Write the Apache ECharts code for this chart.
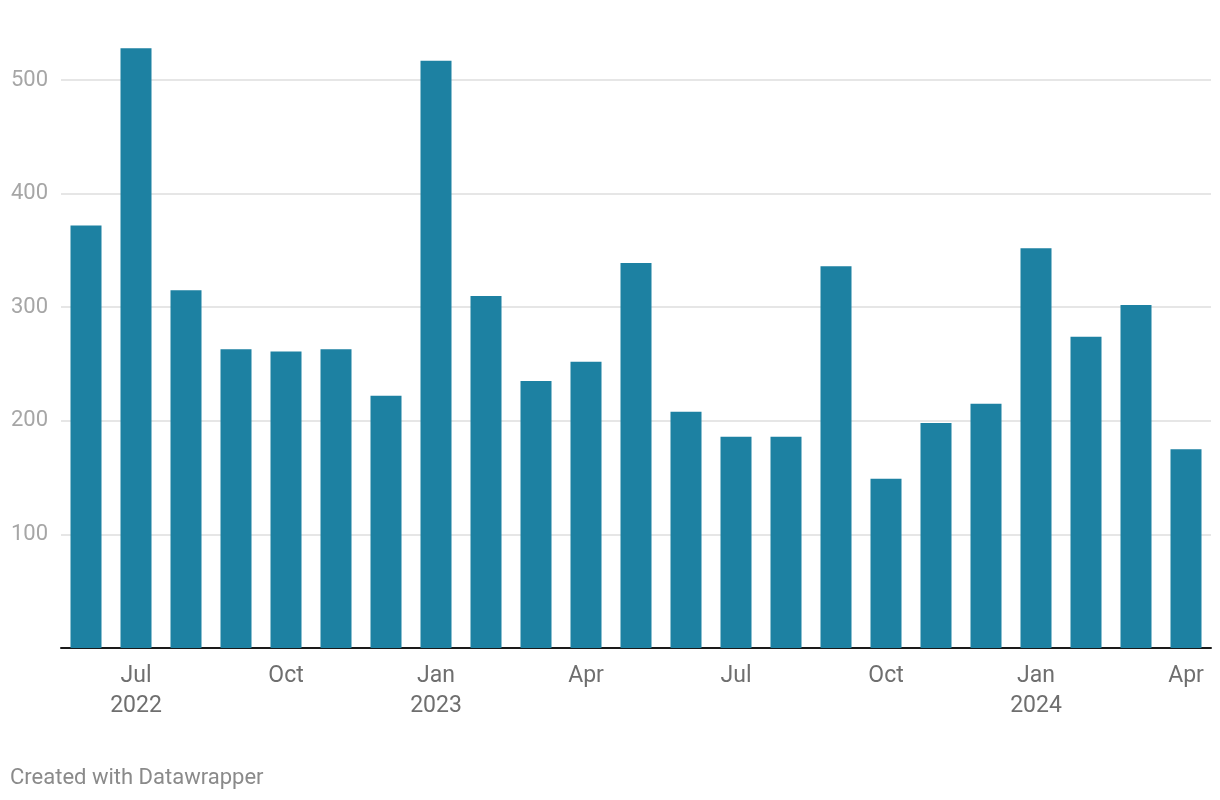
<!DOCTYPE html>
<html>
<head>
<meta charset="utf-8">
<script src="https://cdn.jsdelivr.net/npm/echarts@6/dist/echarts.min.js"></script>
<style>
html,body{margin:0;padding:0;background:#fff;}
#chart{width:1220px;height:800px;}
</style>
</head>
<body>
<div id="chart"></div>
<script>
const months = ['2022-06','2022-07','2022-08','2022-09','2022-10','2022-11','2022-12',
  '2023-01','2023-02','2023-03','2023-04','2023-05','2023-06','2023-07','2023-08','2023-09','2023-10','2023-11','2023-12',
  '2024-01','2024-02','2024-03','2024-04'];
const values = [372, 528, 315, 263, 261, 263, 222, 517, 310, 235, 252, 339, 208, 186, 186, 336, 149, 198, 215, 352, 274, 302, 175];
const tickLabels = ['', 'Jul\n2022', '', '', 'Oct', '', '', 'Jan\n2023', '', '', 'Apr', '', '', 'Jul', '', '', 'Oct', '', '', 'Jan\n2024', '', '', 'Apr'];
const yTicks = [100, 200, 300, 400, 500];

const chart = echarts.init(document.getElementById('chart'), null, {renderer: 'canvas'});
chart.setOption({
  animation: false,
  backgroundColor: '#ffffff',
  textStyle: {fontFamily: 'Roboto'},
  title: {
    text: 'Created with Datawrapper',
    left: 5, top: 762,
    textStyle: {fontFamily: 'Roboto', fontSize: 22, fontWeight: 'normal', color: '#8a8a8a'}
  },
  grid: {left: 61, right: 9, top: 46, bottom: 152, containLabel: false},
  xAxis: {
    type: 'category',
    data: months,
    axisLine: {show: true, lineStyle: {color: '#1a1a1a', width: 2}},
    axisTick: {show: false},
    axisLabel: {
      interval: 0,
      margin: 13,
      color: '#6f6f6f',
      fontFamily: 'Roboto',
      fontSize: 23,
      lineHeight: 30,
      formatter: function (v, i) { return tickLabels[i]; }
    },
    splitLine: {show: false}
  },
  yAxis: {
    type: 'value',
    min: 0, max: 530, interval: 100,
    axisLine: {show: false},
    axisTick: {show: false},
    axisLabel: {
      align: 'left',
      margin: 50,
      color: '#a6a6a6',
      fontFamily: 'Roboto',
      fontSize: 22,
      showMaxLabel: false,
      formatter: function (v) { return yTicks.indexOf(v) >= 0 ? String(v) : ''; }
    },
    splitLine: {show: true, lineStyle: {color: ['rgba(0,0,0,0)', '#e6e6e6', '#e6e6e6', '#e6e6e6', '#e6e6e6', '#e6e6e6', 'rgba(0,0,0,0)'], width: 2}}
  },
  series: [{
    type: 'bar',
    data: values,
    barWidth: 31,
    itemStyle: {color: '#1d81a2'}
  }]
});
</script>
</body>
</html>
